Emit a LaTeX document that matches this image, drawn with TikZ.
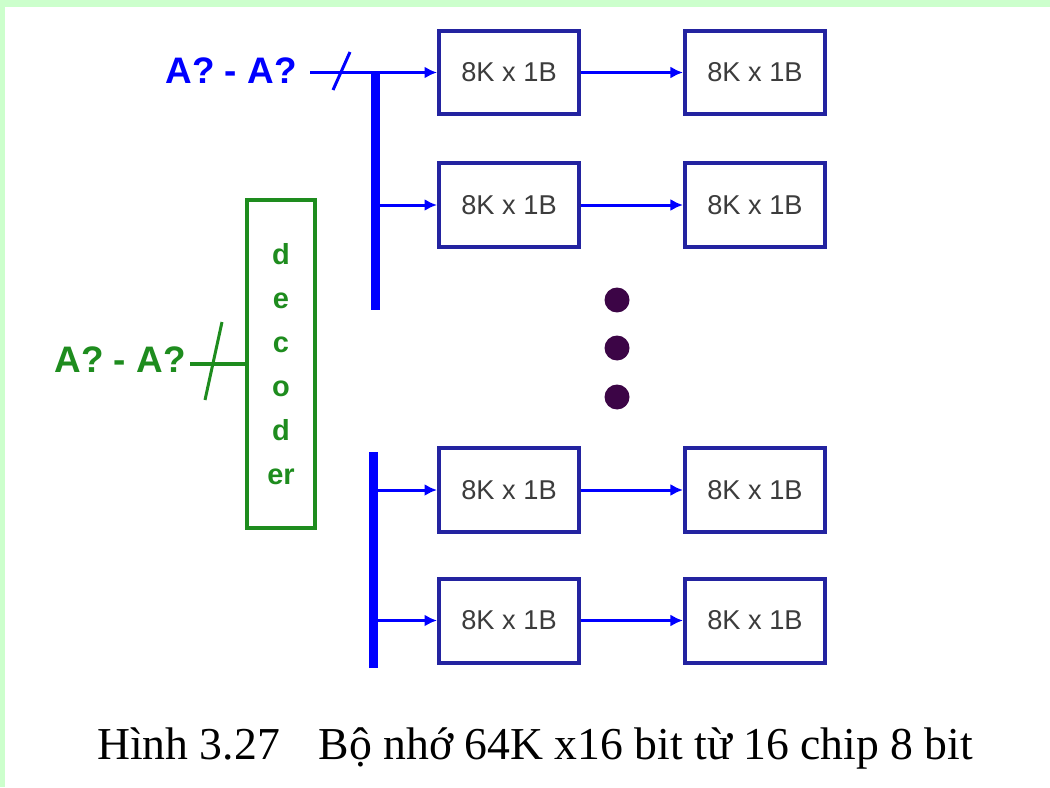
\documentclass[tikz,border=0pt]{standalone}
\usepackage{fontspec}
\setmainfont{Liberation Serif}
\newfontfamily\arialfont{Liberation Sans}
\usetikzlibrary{arrows.meta,positioning}
\definecolor{busblue}{RGB}{0,0,255}
\definecolor{chipblue}{RGB}{35,35,160}
\definecolor{decgreen}{RGB}{30,140,30}
\definecolor{dotpurple}{RGB}{60,5,70}
\definecolor{framegreen}{RGB}{204,255,204}
\definecolor{chiptext}{RGB}{60,60,60}

\begin{document}
\begin{tikzpicture}[x=0.02cm, y=-0.02cm,
        chip/.style={draw=chipblue, line width=0.08cm, minimum width=2.8cm, minimum height=1.68cm, inner sep=0pt, text=chiptext, font=\arialfont\fontsize{15.5}{18}\selectfont},
        giaima/.style={draw=decgreen, line width=0.08cm, minimum width=1.36cm, minimum height=6.56cm, inner sep=0pt, align=center, text=decgreen, font=\arialfont\bfseries\fontsize{16.5}{25}\selectfont},
        nhan/.style={inner sep=0pt, anchor=east, font=\arialfont\bfseries\fontsize{21}{24}\selectfont},
        muiten/.style={-{Latex[length=0.25cm, width=0.24cm]}, busblue, line width=0.06cm},
        bus/.style={busblue, line width=0.18cm},
        gach/.style={line width=0.06cm}
    ]
        % khung nen
        \useasboundingbox (0,0) rectangle (1050,787);
        \fill[framegreen] (0,0) rectangle (1050,787);
        \fill[white] (5,7) rectangle (1050,787);

        % cac chip nho
        \node[chip] (c11) at (509,72.5) {8K x 1B};
        \node[chip] (c21) at (509,205) {8K x 1B};
        \node[chip] (c31) at (509,490) {8K x 1B};
        \node[chip] (c41) at (509,620.5) {8K x 1B};
        \node[chip, right=2.04cm of c11] (c12) {8K x 1B};
        \node[chip, right=2.04cm of c21] (c22) {8K x 1B};
        \node[chip, right=2.04cm of c31] (c32) {8K x 1B};
        \node[chip, right=2.04cm of c41] (c42) {8K x 1B};

        % bo giai ma
        \node[giaima] (dec) at (281,364) {d\\e\\c\\o\\d\\er};

        % dia chi
        \node[nhan, text=busblue] (lblA) at (297,71) {A? - A?};
        \node[nhan, text=decgreen] (lblB) at (186,360) {A? - A?};
        \coordinate (inA) at (310,72.5);
        \coordinate (inB) at (190,364);

        % duong bus
        \coordinate (bus1top) at (375,72.5);
        \coordinate (bus1bot) at (375,310);
        \coordinate (bus2top) at (373,452);
        \coordinate (bus2bot) at (373,668);
        \draw[bus] (bus1top) -- (bus1bot);
        \draw[bus] (bus2top) -- (bus2bot);

        \draw[muiten] (inA) -- (c11);
        \draw[muiten] (bus1top |- c21) -- (c21);
        \draw[muiten] (bus2top |- c31) -- (c31);
        \draw[muiten] (bus2top |- c41) -- (c41);
        \draw[muiten] (c11) -- (c12);
        \draw[muiten] (c21) -- (c22);
        \draw[muiten] (c31) -- (c32);
        \draw[muiten] (c41) -- (c42);

        \draw[decgreen, line width=0.08cm] (inB) -- (dec.west);
        \draw[gach, busblue] (333,90) -- (350,52);
        \draw[gach, decgreen] (205,400) -- (222,322);

        % dau cham
        \foreach \y in {300,348,397}
            \fill[dotpurple] (617,\y) circle (0.25cm);

        \node[font=\fontsize{26}{30}\selectfont] (hinh) at (535,748) {Hình 3.27\hspace{0.6em} Bộ nhớ 64K x16 bit từ 16 chip 8 bit};
    \end{tikzpicture}
\end{document}
